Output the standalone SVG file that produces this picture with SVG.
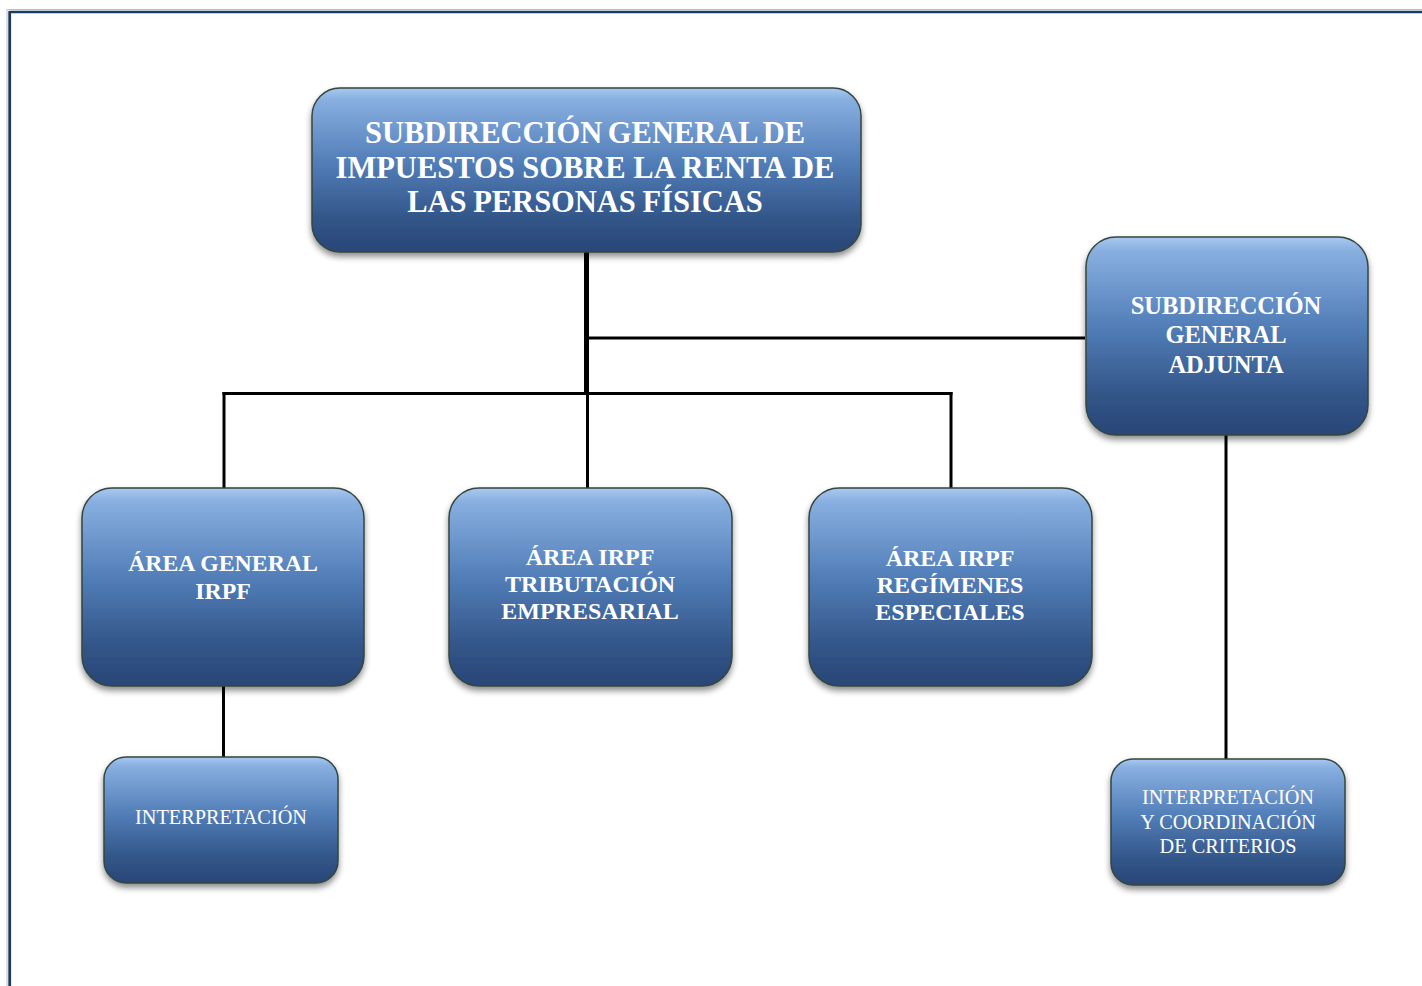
<svg xmlns="http://www.w3.org/2000/svg" width="1422" height="986" viewBox="0 0 1422 986">
  <defs>
    <linearGradient id="boxGrad" x1="0" y1="0" x2="0" y2="1">
      <stop offset="0" stop-color="#a9c9ef"/>
      <stop offset="0.07" stop-color="#88afe0"/>
      <stop offset="0.45" stop-color="#527eb8"/>
      <stop offset="0.8" stop-color="#325588"/>
      <stop offset="1" stop-color="#294676"/>
    </linearGradient>
    <filter id="shadow" x="-10%" y="-10%" width="120%" height="130%">
      <feDropShadow dx="0" dy="4" stdDeviation="3" flood-color="#000" flood-opacity="0.45"/>
    </filter>
    <style>
      .box { fill: url(#boxGrad); stroke: #34463f; stroke-width: 1.5; filter: url(#shadow); }
      .tb { font-family: "Liberation Serif", "Times New Roman", serif; font-weight: bold; fill: #ffffff; text-anchor: middle; }
      .tr { font-family: "Liberation Serif", "Times New Roman", serif; font-weight: normal; fill: #ffffff; text-anchor: middle; }
      .conn { stroke: #000; fill: none; stroke-width: 3; }
    </style>
  </defs>

  <rect width="1422" height="986" fill="#ffffff"/>

  <!-- page border -->
  <g id="border">
    <line x1="7" y1="9.5" x2="1422" y2="9.5" stroke="#b7bec8" stroke-width="1"/>
    <line x1="7" y1="9.5" x2="7" y2="986" stroke="#b7bec8" stroke-width="1"/>
    <line x1="9.5" y1="12" x2="1422" y2="12" stroke="#1f3a5f" stroke-width="2.5"/>
    <line x1="9.7" y1="11" x2="9.7" y2="986" stroke="#1f3a5f" stroke-width="2.8"/>
  </g>

  <g id="connectors">
    <line class="conn" x1="586.5" y1="250" x2="586.5" y2="395" style="stroke-width:5"/>
    <line class="conn" x1="586" y1="338" x2="1085" y2="338"/>
    <line class="conn" x1="222.5" y1="393.5" x2="952.5" y2="393.5"/>
    <line class="conn" x1="224" y1="392" x2="224" y2="490"/>
    <line class="conn" x1="587.5" y1="393" x2="587.5" y2="488"/>
    <line class="conn" x1="951" y1="392" x2="951" y2="490"/>
    <line class="conn" x1="223.5" y1="686" x2="223.5" y2="759"/>
    <line class="conn" x1="1226" y1="430" x2="1226" y2="761"/>
  </g>

  <g id="node-subdireccion-general">
    <rect class="box" x="312" y="88" width="549" height="164" rx="28" ry="28"/>
    <text class="tb" font-size="30.5" x="585" y="143" word-spacing="-2">SUBDIRECCIÓN GENERAL DE</text>
    <text class="tb" font-size="30.5" x="585" y="178" word-spacing="0">IMPUESTOS SOBRE LA RENTA DE</text>
    <text class="tb" font-size="30.5" x="585" y="212" word-spacing="-1">LAS PERSONAS FÍSICAS</text>
  </g>

  <g id="node-subdireccion-adjunta">
    <rect class="box" x="1086" y="237" width="282" height="198" rx="30" ry="30"/>
    <text class="tb" font-size="24.5" x="1226" y="314">SUBDIRECCIÓN</text>
    <text class="tb" font-size="24.5" x="1226" y="343">GENERAL</text>
    <text class="tb" font-size="24.5" x="1226" y="373">ADJUNTA</text>
  </g>

  <g id="node-area-general">
    <rect class="box" x="82" y="488" width="282" height="198" rx="30" ry="30"/>
    <text class="tb" font-size="23.8" x="223" y="571">ÁREA GENERAL</text>
    <text class="tb" font-size="23.8" x="223" y="599">IRPF</text>
  </g>

  <g id="node-area-tributacion">
    <rect class="box" x="449" y="488" width="283" height="198" rx="30" ry="30"/>
    <text class="tb" font-size="24" x="590" y="565">ÁREA IRPF</text>
    <text class="tb" font-size="24" x="590" y="592">TRIBUTACIÓN</text>
    <text class="tb" font-size="24" x="590" y="619">EMPRESARIAL</text>
  </g>

  <g id="node-area-regimenes">
    <rect class="box" x="809" y="488" width="283" height="198" rx="30" ry="30"/>
    <text class="tb" font-size="24" x="950" y="566">ÁREA IRPF</text>
    <text class="tb" font-size="24" x="950" y="593">REGÍMENES</text>
    <text class="tb" font-size="24" x="950" y="620">ESPECIALES</text>
  </g>

  <g id="node-interpretacion">
    <rect class="box" x="104" y="757" width="234" height="126" rx="22" ry="22"/>
    <text class="tr" font-size="20.3" x="221" y="824">INTERPRETACIÓN</text>
  </g>

  <g id="node-interpretacion-coordinacion">
    <rect class="box" x="1111" y="759" width="234" height="126" rx="22" ry="22"/>
    <text class="tr" font-size="20.3" x="1228" y="804">INTERPRETACIÓN</text>
    <text class="tr" font-size="20.3" x="1228" y="829">Y COORDINACIÓN</text>
    <text class="tr" font-size="20.3" x="1228" y="853">DE CRITERIOS</text>
  </g>
</svg>
